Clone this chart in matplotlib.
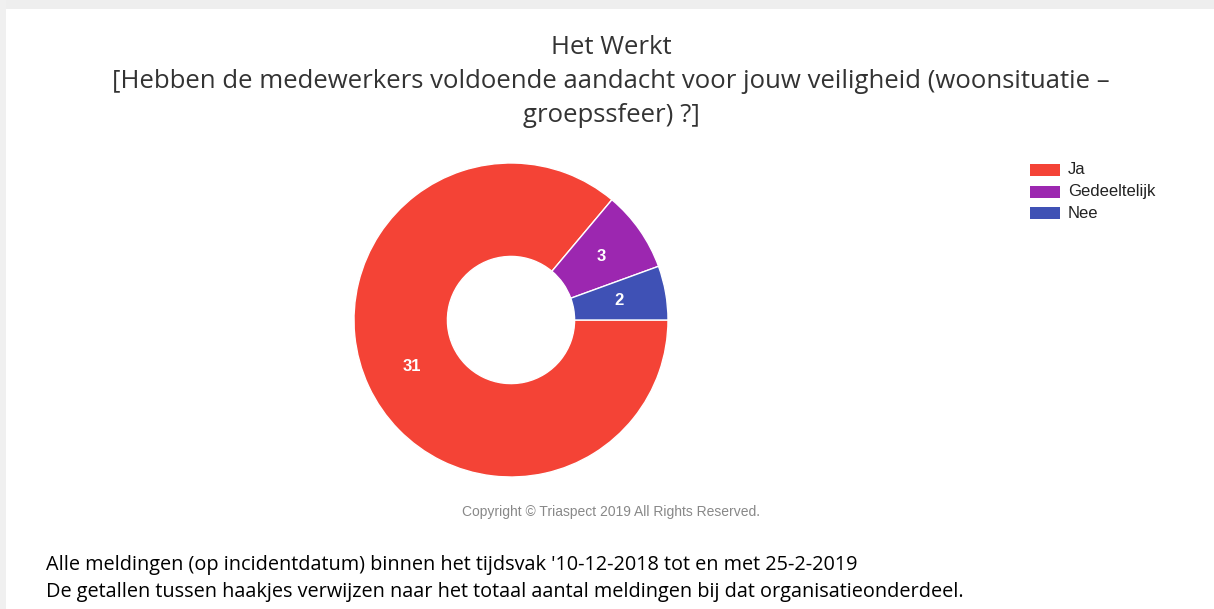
import numpy as np
import matplotlib.pyplot as plt
from matplotlib.patches import Rectangle

# data
labels = ['Ja', 'Gedeeltelijk', 'Nee']
counts = [31, 3, 2]
colors = ['#F44336', '#9C27B0', '#3F51B5']

title = 'Het Werkt\n[Hebben de medewerkers voldoende aandacht voor jouw veiligheid (woonsituatie –\ngroepssfeer) ?]'
footer = ("Alle meldingen (op incidentdatum) binnen het tijdsvak '10-12-2018 tot en met 25-2-2019\n"
          "De getallen tussen haakjes verwijzen naar het totaal aantal meldingen bij dat organisatieonderdeel.")

W, H = 1214, 609
fig = plt.figure(figsize=(W / 100, H / 100), dpi=100)
fig.patch.set_facecolor('white')

# page frame (grey strips top and left)
fig.patches.append(Rectangle((0, 1 - 9 / H), 1, 9 / H, transform=fig.transFigure,
                             facecolor='#eeeeee', edgecolor='none'))
fig.patches.append(Rectangle((0, 0), 6 / W, 1, transform=fig.transFigure,
                             facecolor='#f0f0f0', edgecolor='none'))

# donut: center (511, 320), outer radius 157 px
cx, cy, r = 511, 320, 157
ax = fig.add_axes([(cx - r) / W, 1 - (cy + r) / H, 2 * r / W, 2 * r / H])
wedges, _ = ax.pie(counts, colors=colors, startangle=0, counterclock=False,
                   radius=1.0, wedgeprops=dict(width=0.595, edgecolor='white', linewidth=1))
ax.set_aspect('equal')
ax.set_xlim(-1, 1)
ax.set_ylim(-1, 1)

total = sum(counts)
start = 0.0
for n in counts:
    ang = np.deg2rad(start - 360 * n / total / 2)
    start -= 360 * n / total
    ax.text(0.70 * np.cos(ang), 0.70 * np.sin(ang), str(n), ha='center', va='center',
            color='white', fontsize=12, fontweight='bold', family='Liberation Sans')

fig.text(611 / W, 1 - 81.5 / H, title, ha='center', va='center', fontsize=18.5,
         family='Open Sans', color='#333333', linespacing=1.48)

# legend
for i, (lab, c) in enumerate(zip(labels, colors)):
    y = 170 + i * 21.5
    fig.patches.append(Rectangle((1030 / W, 1 - (y + 6) / H), 30 / W, 12 / H,
                                 transform=fig.transFigure, facecolor=c, edgecolor='none'))
    fig.text(1068 / W, 1 - y / H, lab, ha='left', va='center', fontsize=12,
             family='Liberation Sans', color='#222222')

fig.text(611 / W, 1 - 512 / H, 'Copyright © Triaspect 2019 All Rights Reserved.',
         ha='center', va='center', fontsize=10, family='Liberation Sans', color='#888888')

fig.text(46 / W, 1 - 578.5 / H, footer, ha='left', va='center', fontsize=14.3,
         family='Open Sans', color='black', linespacing=1.45)

fig.savefig('out.png', dpi=100)
